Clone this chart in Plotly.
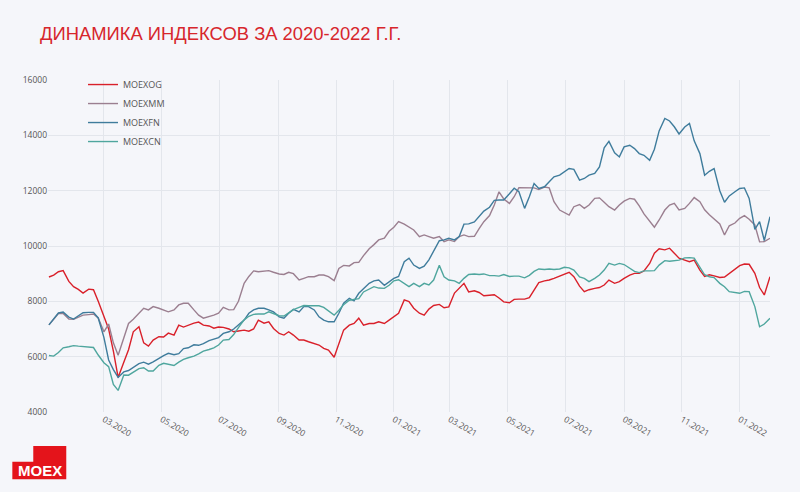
import pandas as pd
import plotly.graph_objects as go

title_text = "ДИНАМИКА ИНДЕКСОВ ЗА 2020-2022 Г.Г."
series_names = ["MOEXOG", "MOEXMM", "MOEXFN", "MOEXCN"]
series_colors = ["#d9202a", "#9b7f90", "#3f7c9c", "#4fa69e"]

dates = pd.date_range("2020-01-03", "2022-02-02", periods=145).normalize()

moexog = [8880, 8950, 9070, 9110, 8720, 8530, 8430, 8300, 8440, 8420,
          8000, 7440, 7000, 6200, 5250, 5800, 6250, 6900, 7080, 6500,
          6380, 6600, 6720, 6710, 6850, 6780, 7140, 7070, 7140, 7210,
          7250, 7140, 7110, 7030, 7070, 7060, 7000, 6900, 6930, 6960,
          6920, 7000, 7320, 7210, 7260, 7020, 6840, 6780, 6900, 6780,
          6600, 6600, 6540, 6480, 6420, 6300, 6240, 5980, 6500, 6960,
          7140, 7200, 7390, 7140, 7200, 7200, 7260, 7200, 7320, 7440,
          7570, 8050, 7990, 7750, 7570, 7500, 7720, 7850, 7890, 7770,
          7800, 8300, 8480, 8650, 8340, 8380, 8320, 8200, 8220, 8240,
          8120, 7980, 7950, 8070, 8080, 8080, 8130, 8400, 8680, 8740,
          8770, 8830, 8910, 9000, 9050, 8890, 8550, 8350, 8420, 8470,
          8500, 8590, 8770, 8650, 8710, 8830, 8950, 9010, 9010, 9100,
          9370, 9740, 9900, 9860, 9920, 9740, 9560, 9490, 9430, 9490,
          9130, 8900, 8960, 8920, 8860, 8880, 9000, 9140, 9290, 9350,
          9340, 9010, 8500, 8230, 8890]

moexmm = [7150, 7350, 7560, 7560, 7360, 7350, 7430, 7500, 7520, 7540,
          7400, 6900, 7180, 6500, 6050, 6700, 7200, 7350, 7550, 7750,
          7690, 7810, 7750, 7690, 7620, 7690, 7870, 7930, 7930, 7690,
          7500, 7390, 7440, 7500, 7570, 7780, 7690, 7700, 8000, 8650,
          8900, 9100, 9070, 9090, 9110, 9050, 8990, 8970, 9050, 9000,
          8770, 8830, 8890, 8890, 8950, 8950, 8890, 8750, 9190, 9300,
          9280, 9400, 9410, 9650, 9900, 10050, 10220, 10280, 10530, 10680,
          10880, 10790, 10700, 10580, 10340, 10400, 10340, 10280, 10340, 10160,
          10220, 10160, 10340, 10400, 10340, 10350, 10630, 10880, 11100, 11480,
          11960, 11700, 11540, 11780, 12110, 12110, 12100, 12100, 12040, 12130,
          12100, 11600, 11300, 11210, 11120, 11420, 11500, 11360, 11480, 11720,
          11740, 11580, 11420, 11300, 11480, 11620, 11720, 11690, 11450, 11160,
          10880, 10680, 10940, 11300, 11480, 11540, 11300, 11360, 11540, 11750,
          11600, 11310, 11130, 10990, 10800, 10400, 10730, 10830, 11000, 11100,
          10970, 10760, 10150, 10160, 10280]

moexfn = [7150, 7370, 7580, 7610, 7430, 7360, 7490, 7590, 7600, 7600,
          7400, 6700, 5880, 5530, 5250, 5450, 5500, 5600, 5750, 5800,
          5730, 5810, 5950, 6040, 6120, 6070, 6110, 6290, 6320, 6430,
          6410, 6470, 6580, 6640, 6690, 6840, 6900, 7000, 7150, 7320,
          7570, 7690, 7750, 7750, 7690, 7620, 7440, 7390, 7570, 7710,
          7620, 7810, 7810, 7690, 7440, 7320, 7260, 7260, 7570, 7930,
          8110, 8020, 8290, 8470, 8650, 8740, 8770, 8580, 8720, 8830,
          8900, 9430, 9560, 9310, 9190, 9270, 9500, 9790, 10190, 10220,
          10280, 10220, 10340, 10790, 10800, 10870, 11060, 11260, 11400, 11650,
          11660, 11660, 11890, 12090, 11960, 11360, 11780, 12260, 12080, 12140,
          12320, 12500, 12560, 12680, 12800, 12770, 12380, 12440, 12560, 12620,
          12860, 13550, 13780, 13370, 13220, 13580, 13640, 13520, 13340, 13280,
          13100, 13500, 14160, 14610, 14520, 14310, 14050, 14300, 14430, 13800,
          13340, 12560, 12700, 12800, 12000, 11580, 11810, 11960, 12080, 12100,
          11720, 10600, 10880, 10200, 11060]

moexcn = [6040, 6020, 6150, 6320, 6360, 6400, 6380, 6370, 6360, 6330,
          6060, 5780, 5640, 5000, 4780, 5340, 5330, 5450, 5570, 5600,
          5480, 5480, 5690, 5760, 5720, 5680, 5800, 5900, 5960, 6020,
          6100, 6200, 6260, 6320, 6420, 6600, 6620, 6800, 7050, 7330,
          7460, 7530, 7540, 7540, 7620, 7560, 7480, 7470, 7570, 7700,
          7780, 7850, 7840, 7840, 7840, 7780, 7660, 7500, 7680, 7880,
          8040, 8060, 8100, 8340, 8450, 8530, 8480, 8470, 8580, 8740,
          8780, 8650, 8530, 8650, 8530, 8650, 8590, 8770, 9300, 8890,
          8770, 8740, 8650, 8830, 8970, 8990, 8970, 8990, 8930, 8930,
          8910, 8970, 8900, 8910, 8910, 8850, 8940, 9080, 9170, 9150,
          9170, 9150, 9170, 9230, 9210, 9130, 8880, 8830, 8710, 8830,
          8950, 9130, 9370, 9310, 9370, 9330, 9200, 9080, 9040, 9100,
          9100, 9110, 9310, 9470, 9450, 9470, 9490, 9570, 9580, 9560,
          9250, 8960, 8890, 8860, 8650, 8530, 8350, 8330, 8290, 8360,
          8350, 7810, 7080, 7180, 7390]

series_values = [moexog, moexmm, moexfn, moexcn]

fig = go.Figure()
for name, color, vals in zip(series_names, series_colors, series_values):
    fig.add_trace(go.Scatter(x=dates, y=vals, mode="lines", name=name,
                             line=dict(color=color, width=1.4)))

bg = "#f5f6fa"
grid = "#e3e6ec"

# plot area: x 48..770, y 80..412
L, R, T, B = 48, 30, 80, 80
pw, ph = 800 - L - R, 492 - T - B

def px(x):
    return (x - L) / pw

def py(y):
    return (492 - B - y) / ph

logo_path = "M {:.4f} {:.4f} L {:.4f} {:.4f} L {:.4f} {:.4f} L {:.4f} {:.4f} L {:.4f} {:.4f} L {:.4f} {:.4f} Z".format(
    px(33.3), py(446), px(66.3), py(446), px(66.3), py(479.3),
    px(12.3), py(479.3), px(12.3), py(461.7), px(33.3), py(461.7))

fig.update_layout(
    width=800, height=492,
    margin=dict(l=L, r=R, t=T, b=B),
    paper_bgcolor=bg, plot_bgcolor=bg,
    font=dict(family="Open Sans", size=8.5, color="#555"),
    title=dict(text=title_text, x=40 / 800, xanchor="left", xref="container",
               y=1 - 33.5 / 492, yanchor="middle", yref="container",
               font=dict(family="Liberation Sans", size=18.4, color="#d7262c")),
    legend=dict(x=px(83), xanchor="left", y=1.03, yanchor="top",
                font=dict(size=9, color="#555"), bgcolor="rgba(0,0,0,0)"),
    showlegend=True,
    xaxis=dict(type="date", range=["2020-01-02", "2022-02-02"],
               tickformat="%m.%Y", dtick="M2", tick0="2020-01-01",
               tickangle=30, showgrid=True, gridcolor=grid, zeroline=False,
               showline=False, tickfont=dict(size=8.5, color="#555")),
    yaxis=dict(range=[4000, 16000], dtick=2000, tick0=0, tickformat="d",
               showgrid=True, gridcolor=grid, zeroline=False, showline=False,
               tickfont=dict(size=8.5, color="#555")),
    shapes=[dict(type="path", xref="paper", yref="paper", path=logo_path,
                 fillcolor="#e4141b", line=dict(width=0), layer="above")],
    annotations=[dict(text="<b>MOEX</b>", xref="paper", yref="paper",
                      x=px(39.5), y=py(470.5), xanchor="center", yanchor="middle",
                      showarrow=False,
                      font=dict(family="Liberation Sans", size=15, color="white"))],
)

fig.write_html("out.html",
               config={"displayModeBar": False},
               post_script="document.body.style.margin='0';document.body.style.background='#f5f6fa';")
